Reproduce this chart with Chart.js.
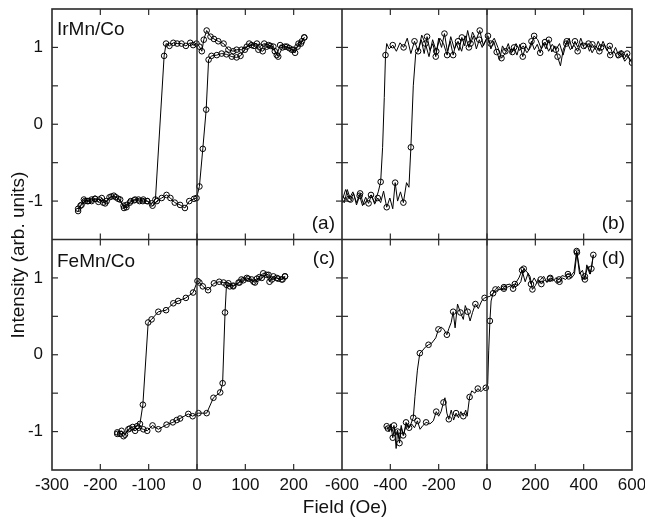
<!DOCTYPE html>
<html>
<head>
<meta charset="utf-8">
<script src="https://cdn.jsdelivr.net/npm/chart.js@4.4.1/dist/chart.umd.min.js"></script>
<style>
  body { margin: 0; background: #fff; }
  canvas { display: block; }
</style>
</head>
<body>
<canvas id="loops" width="645" height="520"></canvas>
<script>
// (a) IrMn/Co, field sweep down then up
const fieldA_down = [222,215,208,199,191,182,172,165,158,148,139,130,124,113,103,92,82,75,65,55,44,35,28,20,14,10,5,-1,-8,-14,-23,-32,-41,-49,-57,-64,-68,-86,-94,-103,-111,-119,-128,-137,-146,-151,-159,-168,-177,-187,-194,-202,-211,-218,-225,-232,-239,-246];
const intA_down = [1.13,1.05,1.01,0.97,0.99,1.01,1.03,0.90,1.01,1.03,1.05,1.01,1.05,1.03,1.01,0.97,0.97,0.95,0.97,1.05,1.08,1.11,1.14,1.22,1.10,0.95,1.01,1.05,1.03,1.06,1.02,1.05,1.05,1.06,1.02,1.05,0.89,-0.98,-1.03,-1.00,-0.98,-1.00,-0.98,-1.00,-1.05,-1.09,-0.98,-0.95,-0.94,-1.00,-1.02,-0.98,-0.97,-0.98,-1.00,-1.00,-1.05,-1.10];
const fieldA_up = [-246,-241,-234,-227,-218,-211,-204,-197,-190,-181,-172,-163,-152,-146,-139,-130,-121,-112,-103,-92,-83,-73,-63,-55,-46,-35,-25,-16,-6,-1,5,12,19,24,30,41,51,61,72,82,90,99,108,118,127,136,144,152,161,168,177,186,196,203,210,217,222];
const intA_up = [-1.13,-1.06,-0.98,-1.00,-1.00,-0.97,-1.01,-0.96,-1.03,-0.95,-0.93,-0.97,-1.06,-1.08,-1.02,-0.99,-0.98,-1.00,-1.00,-1.06,-1.00,-0.96,-0.92,-0.96,-1.02,-1.05,-1.09,-1.00,-0.97,-0.96,-0.81,-0.32,0.19,0.84,0.89,0.90,0.92,0.91,0.88,0.87,0.89,0.97,1.05,1.02,0.97,0.95,1.01,1.02,0.95,0.88,1.00,1.01,0.97,0.93,1.05,1.08,1.13];

// (b) IrMn/Co, wide sweep
const fieldB_down = [600,585,570,555,540,525,510,495,480,465,450,435,420,405,390,375,360,345,330,315,300,285,270,255,240,225,210,195,180,165,150,135,120,105,90,75,60,45,30,15,0,-15,-30,-45,-60,-75,-90,-105,-120,-135,-150,-165,-180,-195,-210,-225,-240,-255,-270,-285,-300,-315,-330,-345,-360,-375,-390,-405,-415,-420,-425,-432,-440,-450,-465,-480,-495,-510,-525,-540,-555,-570,-585,-600];
const intB_down = [0.80,0.88,0.82,0.92,0.86,0.95,0.90,0.98,1.08,0.95,1.02,0.93,1.05,0.98,1.06,0.95,1.03,0.97,1.08,0.90,1.05,0.97,1.04,0.95,1.07,0.98,1.10,1.15,1.00,0.93,1.02,0.96,1.05,0.94,1.00,0.92,0.86,1.00,1.12,1.05,1.12,1.02,1.22,1.10,1.20,1.00,1.15,0.95,1.08,0.98,1.14,0.90,1.05,1.12,0.95,1.10,0.88,1.05,1.16,0.95,1.08,0.92,1.12,1.00,1.06,0.95,1.03,0.98,1.05,0.90,0.35,-0.30,-0.75,-0.88,-1.02,-0.92,-0.98,-1.05,-0.90,-1.02,-0.88,-0.97,-0.85,-1.00];
const fieldB_up = [-600,-590,-578,-565,-552,-540,-527,-515,-502,-490,-478,-465,-452,-440,-428,-415,-402,-390,-380,-370,-358,-346,-333,-323,-315,-305,-295,-285,-272,-260,-248,-236,-224,-212,-200,-188,-176,-164,-152,-140,-128,-116,-104,-92,-80,-68,-56,-44,-32,-20,-8,4,16,28,40,52,64,76,88,100,112,124,136,148,160,172,184,196,208,220,232,244,256,268,280,292,304,316,328,340,352,364,376,388,400,412,424,436,448,460,472,484,496,508,520,532,544,556,568,580,592,600];
const intB_up = [-0.98,-1.02,-0.85,-0.98,-0.90,-1.05,-0.93,-1.06,-0.95,-1.03,-0.92,-1.04,-0.96,-1.02,-0.87,-1.08,-0.96,-1.10,-0.76,-1.00,-0.88,-1.02,-0.76,-0.82,-0.30,0.50,0.92,0.95,1.10,0.92,1.14,0.96,1.05,0.88,1.12,1.00,1.18,0.95,1.08,0.90,1.06,0.96,1.13,1.02,1.22,1.05,1.15,0.98,1.10,1.00,1.08,1.15,0.98,1.08,0.94,0.84,1.02,0.95,1.05,0.92,1.00,0.90,1.04,0.88,1.02,0.96,1.08,0.97,1.04,0.93,1.06,0.98,1.10,0.94,1.02,0.88,0.76,0.98,1.05,1.12,0.98,1.08,1.00,1.12,1.02,1.06,0.95,1.04,0.97,1.08,1.00,1.04,0.96,1.02,0.92,1.00,0.90,0.96,0.85,0.92,0.82,0.86];

// (c) FeMn/Co
const fieldC_down = [182,177,168,158,150,144,134,124,117,106,96,88,75,65,55,46,35,23,12,5,1,-8,-23,-39,-49,-64,-80,-94,-101,-112,-118,-124,-133,-142,-152,-159,-165];
const intC_down = [1.02,0.98,0.99,1.02,0.95,1.04,1.00,0.99,0.95,0.99,0.97,0.94,0.89,0.93,0.94,0.95,0.93,0.84,0.89,0.94,0.96,0.81,0.74,0.70,0.67,0.58,0.56,0.46,0.42,-0.65,-0.90,-0.93,-0.94,-0.97,-1.06,-1.03,-1.01];
const fieldC_up = [-165,-156,-149,-139,-128,-121,-111,-103,-92,-80,-63,-50,-42,-35,-18,-9,3,20,34,48,53,58,61,68,75,86,92,103,113,120,129,137,148,155,165,175,182];
const intC_up = [-1.03,-0.99,-1.04,-0.96,-0.99,-0.95,-0.97,-0.99,-0.92,-0.97,-0.91,-0.88,-0.85,-0.83,-0.77,-0.80,-0.76,-0.76,-0.56,-0.49,-0.37,0.55,0.91,0.89,0.90,0.94,0.98,1.00,0.98,0.94,1.01,1.06,1.04,0.98,1.00,0.98,1.02];

// (d) FeMn/Co, wide sweep
const fieldD_down = [440,428,418,405,395,385,372,362,350,338,325,312,300,288,275,262,250,238,225,212,200,188,178,165,152,140,128,115,100,85,70,55,40,25,12,0,-10,-22,-36,-48,-60,-70,-80,-90,-98,-110,-122,-132,-140,-148,-158,-166,-178,-190,-201,-212,-229,-242,-255,-268,-278,-288,-298,-305,-315,-325,-335,-345,-355,-362,-370,-378,-385,-393,-400,-410];
const intD_down = [1.30,1.05,1.15,1.02,0.97,1.08,1.33,1.05,1.00,1.02,0.98,1.00,0.95,0.93,0.98,1.00,0.95,0.97,0.92,0.98,0.90,0.85,1.02,1.08,1.12,0.95,0.90,0.92,0.90,0.88,0.86,0.85,0.84,0.80,0.76,0.75,0.74,0.70,0.60,0.66,0.55,0.44,0.56,0.64,0.46,0.55,0.66,0.35,0.56,0.42,0.34,0.26,0.33,0.36,0.33,0.22,0.15,0.13,0.10,0.05,0.02,-0.20,-0.54,-0.82,-0.90,-0.96,-0.88,-1.05,-0.95,-1.15,-0.98,-1.05,-0.92,-1.00,-0.92,-0.96];
const fieldD_up = [-415,-405,-398,-390,-383,-376,-370,-362,-355,-347,-340,-332,-322,-312,-300,-288,-277,-265,-252,-236,-222,-210,-200,-190,-180,-174,-166,-158,-148,-138,-128,-118,-108,-98,-88,-82,-72,-63,-50,-38,-25,-15,-5,3,7,12,17,25,35,47,60,70,81,95,108,120,132,145,158,170,182,195,208,222,235,248,260,272,285,298,310,322,335,348,360,371,383,395,405,413,425,432,440];
const intD_up = [-0.93,-1.00,-0.90,-1.08,-0.95,-1.22,-1.00,-1.10,-0.92,-1.05,-0.98,-0.89,-0.95,-0.90,-0.95,-0.86,-0.97,-0.92,-0.88,-0.90,-0.86,-0.74,-0.80,-0.74,-0.62,-0.56,-0.76,-0.84,-0.72,-0.85,-0.76,-0.82,-0.74,-0.80,-0.72,-0.80,-0.55,-0.47,-0.50,-0.44,-0.48,-0.45,-0.43,-0.38,0.05,0.44,0.70,0.80,0.85,0.89,0.84,0.88,0.91,0.92,0.86,0.94,1.00,1.10,0.95,1.06,0.92,1.00,0.93,0.98,1.02,0.94,0.99,0.96,1.00,0.98,1.03,1.02,1.05,1.03,1.08,1.35,1.05,1.10,0.98,1.17,1.05,1.12,1.30];

const sampleNames = ['IrMn/Co', 'FeMn/Co'];
const panelTags = ['(a)', '(b)', '(c)', '(d)'];
const xTitle = 'Field (Oe)';
const yTitle = 'Intensity (arb. units)';

const FONT = "'Liberation Sans', Arial, Helvetica, sans-serif";

function pts(fields, vals) {
    return fields.map((f, i) => ({ x: f, y: vals[i] }));
}

function loop(fields, vals, xId, yId, every) {
    return {
        data: pts(fields, vals),
        xAxisID: xId,
        yAxisID: yId,
        showLine: true,
        borderColor: '#000',
        borderWidth: 1,
        tension: 0,
        pointRadius: (c) => (c.dataIndex % every === 0 ? 2.8 : 0),
        pointBorderColor: '#000',
        pointBackgroundColor: 'rgba(0,0,0,0)',
        pointBorderWidth: 1,
    };
}

function line(ctx, x1, y1, x2, y2) {
    ctx.beginPath();
    ctx.moveTo(x1, y1);
    ctx.lineTo(x2, y2);
    ctx.stroke();
}

// frame, zero lines, inward ticks and the texts
const panelFrame = {
    id: 'panelFrame',
    afterDatasetsDraw(chart) {
        const { ctx, chartArea: a } = chart;
        const { xL, xR, yT, yB } = chart.scales;
        ctx.save();
        ctx.strokeStyle = '#2a2a2a';
        ctx.lineWidth = 1.6;
        ctx.strokeRect(a.left, a.top, a.right - a.left, a.bottom - a.top);
        line(ctx, xL.right, a.top, xL.right, a.bottom);
        line(ctx, a.left, yT.bottom, a.right, yT.bottom);
        ctx.lineWidth = 1.4;
        for (const s of [xL, xR]) {
            const x = s.getPixelForValue(0);
            line(ctx, x, a.top, x, a.bottom);
        }

        ctx.lineWidth = 1.2;
        const tl = 6;
        for (const s of [xL, xR]) {
            for (const t of s.ticks) {
                if (t.value <= s.min || t.value >= s.max) continue;
                const x = s.getPixelForValue(t.value);
                for (const ys of [yT, yB]) {
                    line(ctx, x, ys.top, x, ys.top + tl);
                    line(ctx, x, ys.bottom, x, ys.bottom - tl);
                }
            }
        }
        for (const s of [yT, yB]) {
            for (const t of s.ticks) {
                if (t.value <= s.min || t.value >= s.max) continue;
                const y = s.getPixelForValue(t.value);
                for (const xs of [xL, xR]) {
                    line(ctx, xs.left, y, xs.left + tl, y);
                    line(ctx, xs.right, y, xs.right - tl, y);
                }
            }
        }

        ctx.fillStyle = '#111';
        ctx.font = '19px ' + FONT;
        ctx.textBaseline = 'alphabetic';
        ctx.textAlign = 'left';
        ctx.fillText(sampleNames[0], xL.left + 5, yT.top + 26);
        ctx.fillText(sampleNames[1], xL.left + 5, yB.top + 27);
        ctx.textAlign = 'right';
        ctx.fillText(panelTags[0], xL.right - 7, yT.bottom - 11);
        ctx.fillText(panelTags[1], xR.right - 7, yT.bottom - 11);
        ctx.fillText(panelTags[2], xL.right - 7, yB.top + 24);
        ctx.fillText(panelTags[3], xR.right - 7, yB.top + 24);

        ctx.textAlign = 'center';
        ctx.textBaseline = 'middle';
        ctx.fillText(xTitle, (a.left + a.right) / 2 + 3, chart.height - 12);
        ctx.translate(19, 255);
        ctx.rotate(-Math.PI / 2);
        ctx.fillText(yTitle, 0, 0);
        ctx.restore();
    }
};

function xAxis(min, max, step, hide) {
    return {
        type: 'linear',
        axis: 'x',
        position: 'bottom',
        stack: 'field',
        min: min,
        max: max,
        grid: { display: false, drawTicks: false },
        border: { display: false },
        ticks: {
            stepSize: step,
            autoSkip: false,
            maxRotation: 0,
            padding: 5,
            color: '#111',
            font: { family: FONT, size: 17 },
            callback: (v) => (v === hide ? '' : String(v)),
        },
        afterFit: (s) => {
            s.height = 50;
            s.paddingLeft = 0;
            s.paddingRight = 0;
        },
    };
}

function yAxis(weight) {
    return {
        type: 'linear',
        axis: 'y',
        position: 'left',
        stack: 'intensity',
        weight: weight,
        min: -1.5,
        max: 1.5,
        grid: { display: false, drawTicks: false },
        border: { display: false },
        ticks: {
            stepSize: 0.5,
            autoSkip: false,
            padding: 9,
            color: '#111',
            font: { family: FONT, size: 17 },
            callback: (v) => (v % 1 === 0 ? String(v) : ''),
        },
        afterFit: (s) => {
            s.width = 52;
            s.paddingTop = 0;
            s.paddingBottom = 0;
        },
    };
}

new Chart(document.getElementById('loops'), {
    type: 'scatter',
    data: {
        datasets: [
            loop(fieldA_down, intA_down, 'xL', 'yT', 1),
            loop(fieldA_up, intA_up, 'xL', 'yT', 1),
            loop(fieldB_down, intB_down, 'xR', 'yT', 3),
            loop(fieldB_up, intB_up, 'xR', 'yT', 3),
            loop(fieldC_down, intC_down, 'xL', 'yB', 1),
            loop(fieldC_up, intC_up, 'xL', 'yB', 1),
            loop(fieldD_down, intD_down, 'xR', 'yB', 3),
            loop(fieldD_up, intD_up, 'xR', 'yB', 3),
        ]
    },
    options: {
        responsive: false,
        animation: false,
        layout: { padding: { top: 9, right: 13, left: 0, bottom: 0 } },
        plugins: { legend: { display: false }, tooltip: { enabled: false } },
        scales: {
            xL: xAxis(-300, 300, 100, 300),
            xR: xAxis(-600, 600, 200, null),
            yT: yAxis(1),
            yB: yAxis(0),
        },
    },
    plugins: [panelFrame],
});
</script>
</body>
</html>
